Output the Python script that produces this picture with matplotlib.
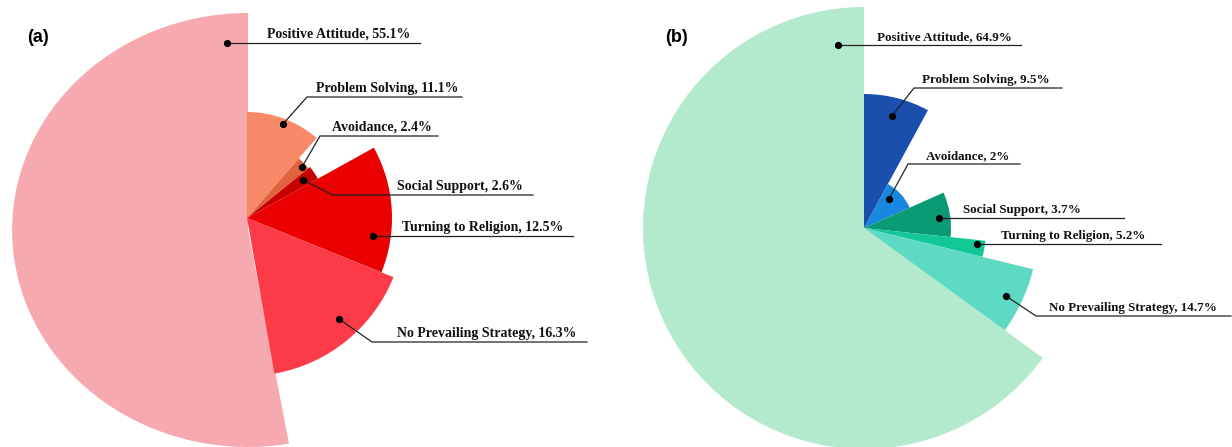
import matplotlib.pyplot as plt
from matplotlib.patches import Wedge
from matplotlib.transforms import Affine2D

# Coping strategies, share of respondents (%)
categories = ['Positive Attitude', 'Problem Solving', 'Avoidance',
              'Social Support', 'Turning to Religion', 'No Prevailing Strategy']
share_a = [55.1, 11.1, 2.4, 2.6, 12.5, 16.3]
share_b = [64.9, 9.5, 2, 3.7, 5.2, 14.7]

colors_a = ['#F7A9B0', '#F88A68', '#E0623F', '#C40000', '#EA0000', '#FD3A48']
colors_b = ['#B3EACD', '#1A4FAE', '#1787E0', '#0A9B74', '#12C896', '#5ED9C3']

# rose layout: sector span (degrees clockwise from 12 o'clock) and outer radius (px)
spans_a = [(170, 360), (0, 41), (41, 51), (51, 61), (61, 112), (112, 170)]
radii_a = [217, 106, 79, 81, 145, 158]
spans_b = [(126, 360), (0, 28.5), (28.5, 66), (66, 96), (96, 103.7), (103.7, 126)]
radii_b = [221, 134, 50, 87, 122, 174]

# label callouts: anchor dot, optional elbow, end of underline, text left edge
callouts_a = [((227, 43), None, 420, 267),
              ((283, 124), (307, 97), 462, 316),
              ((302, 167), (320, 136), 438, 332),
              ((303, 180), (333, 195), 533, 397),
              ((373, 236), None, 573, 402),
              ((339, 319), (372, 342), 587, 397)]
callouts_b = [((838, 45), None, 1021, 877),
              ((892, 116), (914, 88), 1062, 922),
              ((889, 199), (908, 164), 1020, 926),
              ((939, 218), None, 1124, 963),
              ((977, 244), None, 1161, 1001),
              ((1006, 296), (1036, 316), 1231, 1049)]

fig = plt.figure(figsize=(12.32, 4.47), dpi=100)
ax = fig.add_axes([0, 0, 1, 1])
ax.set_xlim(0, 1232)
ax.set_ylim(447, 0)
ax.axis('off')


def draw_rose(center, spans, radii, colors, big_center=None, big_stretch=1.0):
    for i, ((a0, a1), r, c) in enumerate(zip(spans, radii, colors)):
        cen = center
        if i == 0 and big_center is not None:
            cen = big_center
        # y axis points down, so data angle = clockwise-from-top angle - 90
        w = Wedge(cen, r, a0 - 90, a1 - 90, facecolor=c, edgecolor='none',
                  zorder=1 if i == 0 else 2)
        if i == 0 and big_stretch != 1.0:
            w.set_transform(Affine2D().translate(-cen[0], -cen[1])
                            .scale(big_stretch, 1).translate(cen[0], cen[1])
                            + ax.transData)
        ax.add_patch(w)


def draw_callouts(callouts, values, fsize):
    for (dot, elbow, x_end, x_txt), name, v in zip(callouts, categories, values):
        if elbow is None:
            xs, ys = [dot[0], x_end], [dot[1], dot[1]]
            y_line = dot[1]
        else:
            xs, ys = [dot[0], elbow[0], x_end], [dot[1], elbow[1], elbow[1]]
            y_line = elbow[1]
        ax.plot(xs, ys, color='#222222', lw=0.9, zorder=3)
        ax.plot(dot[0], dot[1], 'o', color='black', ms=4.2, zorder=4)
        ax.text(x_txt, y_line - 5, f'{name}, {v:g}%', ha='left', va='baseline',
                fontsize=fsize, fontweight='bold', family='Liberation Serif',
                color='#111111', zorder=5)


draw_rose((247, 218), spans_a, radii_a, colors_a, big_center=(248, 230), big_stretch=1.087)
draw_rose((864, 228), spans_b, radii_b, colors_b)

draw_callouts(callouts_a, share_a, 10.0)
draw_callouts(callouts_b, share_b, 9.4)

ax.text(27, 37, '(a)', fontsize=13, fontweight='bold', family='Liberation Sans',
        ha='left', va='center', color='black')
ax.text(665, 37, '(b)', fontsize=13, fontweight='bold', family='Liberation Sans',
        ha='left', va='center', color='black')

fig.savefig('out.png', dpi=100)
